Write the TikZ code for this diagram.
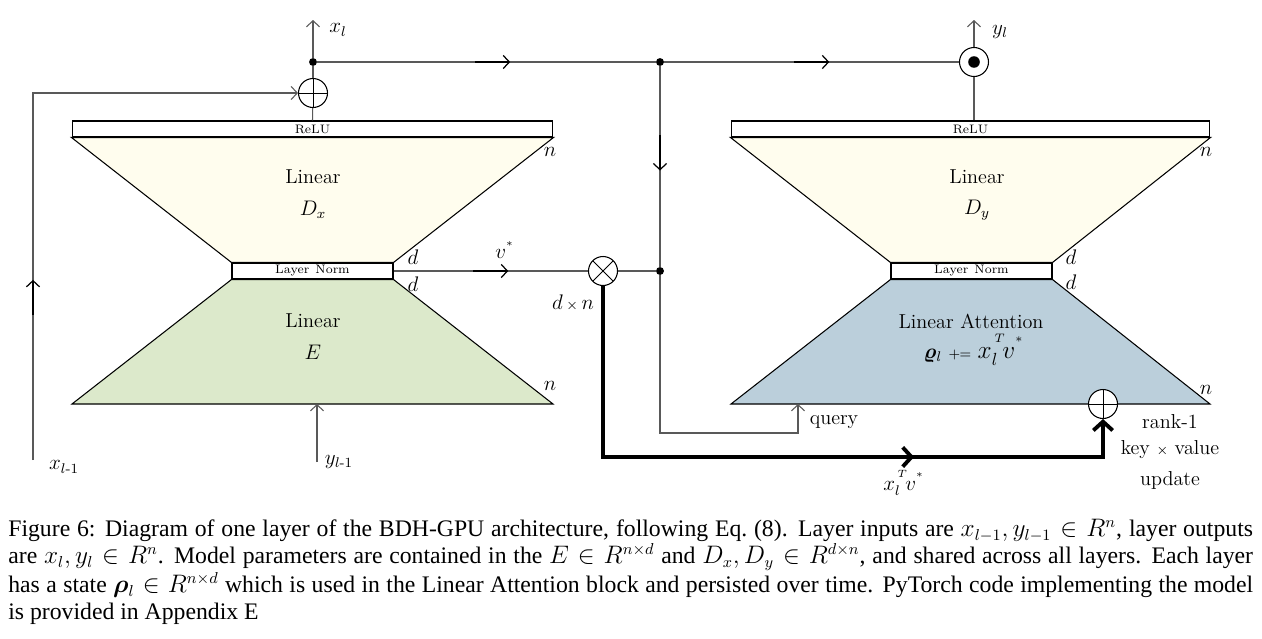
\documentclass[tikz,border=0pt]{standalone}
\usepackage{amsmath,bm}
\usepackage{fontspec}
\newfontfamily\capfont{Liberation Serif}
\usetikzlibrary{positioning,arrows.meta,calc,decorations.markings}
\definecolor{decfill}{HTML}{FFFDEE}
\definecolor{encfill}{HTML}{DCE9CB}
\definecolor{attfill}{HTML}{BBCFDB}
\tikzset{
  >={Straight Barb[length=3.5pt,width=7.5pt]},
  conn/.style={draw=black!65,line width=0.6pt},
  bar/.style={draw,line width=0.6pt,fill=white,inner sep=0pt,minimum height=0.32cm,font=\fontsize{7}{8}\selectfont},
  trap/.style={draw,line width=0.6pt},
  opnode/.style={circle,draw,line width=0.6pt,minimum size=0.58cm,inner sep=0pt,fill=white},
  oplus/.style={opnode,path picture={\draw[line width=0.5pt] (path picture bounding box.north) -- (path picture bounding box.south)
      (path picture bounding box.west) -- (path picture bounding box.east);}},
  otimes/.style={opnode,path picture={\draw[line width=0.5pt] (path picture bounding box.north west) -- (path picture bounding box.south east)
      (path picture bounding box.south west) -- (path picture bounding box.north east);}},
  odot/.style={opnode},
  jn/.style={circle,fill,inner sep=0pt,minimum size=4.5pt},
  blk/.style={font=\fontsize{11.5}{13}\selectfont},
  midarr/.style={postaction={decorate,decoration={markings,mark=at position #1 with {\draw[->,black,line width=0.7pt] (-20pt,0) -- (0,0);}}}},
  bigarr/.style={postaction={decorate,decoration={markings,mark=at position #1 with {\arrow[line width=2.2pt]{Straight Barb[length=5pt,width=11pt]}}}}},
  kvpath/.style={line width=2.2pt,-{Straight Barb[length=5pt,width=11pt]}},
}

\begin{document}
\begin{tikzpicture}[x=0.02cm,y=-0.02cm]
\useasboundingbox (0,0) rectangle (1262,639);

% left half: encoder E and decoder D_x
\node[bar,minimum width=9.62cm] (reluL) at (312.5,129) {ReLU};
\node[bar,minimum width=3.22cm] (normL) at (312.5,271) {Layer\enspace Norm};
\coordinate (eSW) at (72,404);
\coordinate (eSE) at (553,404);
\filldraw[trap,fill=decfill] (reluL.south west) -- (reluL.south east) -- (normL.north east) -- (normL.north west) -- cycle;
\filldraw[trap,fill=encfill] (normL.south west) -- (normL.south east) -- (eSE) -- (eSW) -- cycle;
\node[blk] (linDx) at (313,177) {Linear};
\node[blk] (Dx) at (313,210) {$D_{x}$};
\node[blk] (linE) at (313,321) {Linear};
\node[blk] (E) at (313,352) {$E$};
\node[blk] (nL1) at (550,152) {$n$};
\node[blk] (nL2) at (550,386) {$n$};
\node[blk] (dL1) at (413,257) {$d$};
\node[blk] (dL2) at (413,284) {$d$};

% right half: linear attention and decoder D_y
\node[bar,minimum width=9.58cm] (reluR) at (970.5,129) {ReLU};
\node[bar,minimum width=3.22cm] (normR) at (971.5,271) {Layer\enspace Norm};
\coordinate (aSW) at (731,404);
\coordinate (aSE) at (1210,404);
\filldraw[trap,fill=decfill] (reluR.south west) -- (reluR.south east) -- (normR.north east) -- (normR.north west) -- cycle;
\filldraw[trap,fill=attfill] (normR.south west) -- (normR.south east) -- (aSE) -- (aSW) -- cycle;
\node[blk] (linDy) at (977,177) {Linear};
\node[blk] (Dy) at (977,210) {$D_{y}$};
\node[blk] (linAtt) at (971,321) {Linear Attention};
\node[blk] (rho) at (974,350) {$\bm{\varrho}_l$ {\footnotesize$+\!\!=$} {\Large$x_l^{\,^T}\!v^{^*}$}};
\node[blk] (nR1) at (1206,152) {$n$};
\node[blk] (nR2) at (1206,390) {$n$};
\node[blk] (dR1) at (1071,257) {$d$};
\node[blk] (dR2) at (1071,282) {$d$};

% operators and junctions
\node[oplus] (addL) at (313,93) {};
\node[otimes] (mulL) at (603,271) {};
\node[odot] (dotR) at (974,62) {};
\fill (dotR) circle (3.3pt);
\node[oplus] (addR) at (1103,404) {};
\node[jn] (jn1) at (313,62) {};
\node[jn] (jn2) at (660,62) {};
\node[jn] (jn3) at (660,271) {};

\coordinate (xin) at (33,460);
\coordinate (yin) at (317,462);
\coordinate (eIn) at (317,404);
\coordinate (xout) at (313,20);
\coordinate (yout) at (974,20);
\coordinate (qbend) at (798,433);
\coordinate (qry) at (798,404);
\coordinate (kvbend) at (1103,457);

% connectors
\draw[conn,->,midarr=0.285] (xin) |- (addL);
\draw[conn] (reluL.north) -- (addL);
\draw[conn] (addL) -- (jn1);
\draw[conn,->] (jn1) -- (xout);
\draw[conn,midarr=0.57] (jn1) -- (jn2);
\draw[conn,midarr=0.56] (jn2) -- (dotR);
\draw[conn] (dotR) -- (dotR |- reluR.north);
\draw[conn,->] (dotR) -- (yout);
\draw[conn,midarr=0.52] (jn2) -- (jn3);
\draw[conn,midarr=0.59] (normL.east) -- (mulL);
\draw[conn] (mulL) -- (jn3);
\draw[conn,->] (jn3) |- (qbend) -- (qry);
\draw[conn,->] (yin) -- (eIn);
\draw[kvpath,bigarr=0.68] (mulL.south) |- (kvbend) -- (addR);

% labels
\node[blk] (lxl) at (338,30) {$x_l$};
\node[blk] (lyl) at (1000,32) {$y_l$};
\node[blk] (lxin) at (64,467) {$x_{l\text{-}1}$};
\node[blk] (lyin) at (339,462) {$y_{l\text{-}1}$};
\node[blk] (lv) at (505,250) {$v^{^*}$};
\node[blk] (ldn) at (573,303) {$d\,{\scriptstyle\times}\,n$};
\node[blk] (lq) at (834,422) {query};
\node[blk] (lkv) at (904,483) {$x_l^{\,^T}\!v^{^*}$};
\node[blk] (lr1) at (1170,422) {rank-1};
\node[blk] (lr2) at (1170,450) {key ${\scriptstyle\times}$ value};
\node[blk] (lr3) at (1170,480) {update};

% caption
\node[anchor=north west,inner sep=0pt,text width=24.9cm,align=justify,
      font=\capfont\fontsize{13.5}{15.3}\selectfont] (cap) at (8,519)
  {Figure 6: Diagram of one layer of the BDH-GPU architecture, following Eq.~(8). Layer inputs are $x_{l-1}, y_{l-1} \in R^n$, layer outputs\linebreak
   are $x_l, y_l \in R^n$. Model parameters are contained in the $E \in R^{n\times d}$ and $D_x, D_y \in R^{d\times n}$, and shared across all layers. Each layer\linebreak
   has a state $\bm{\rho}_l \in R^{n\times d}$ which is used in the Linear Attention block and persisted over time. PyTorch code implementing the model\linebreak
   is provided in Appendix E};
\end{tikzpicture}
\end{document}
